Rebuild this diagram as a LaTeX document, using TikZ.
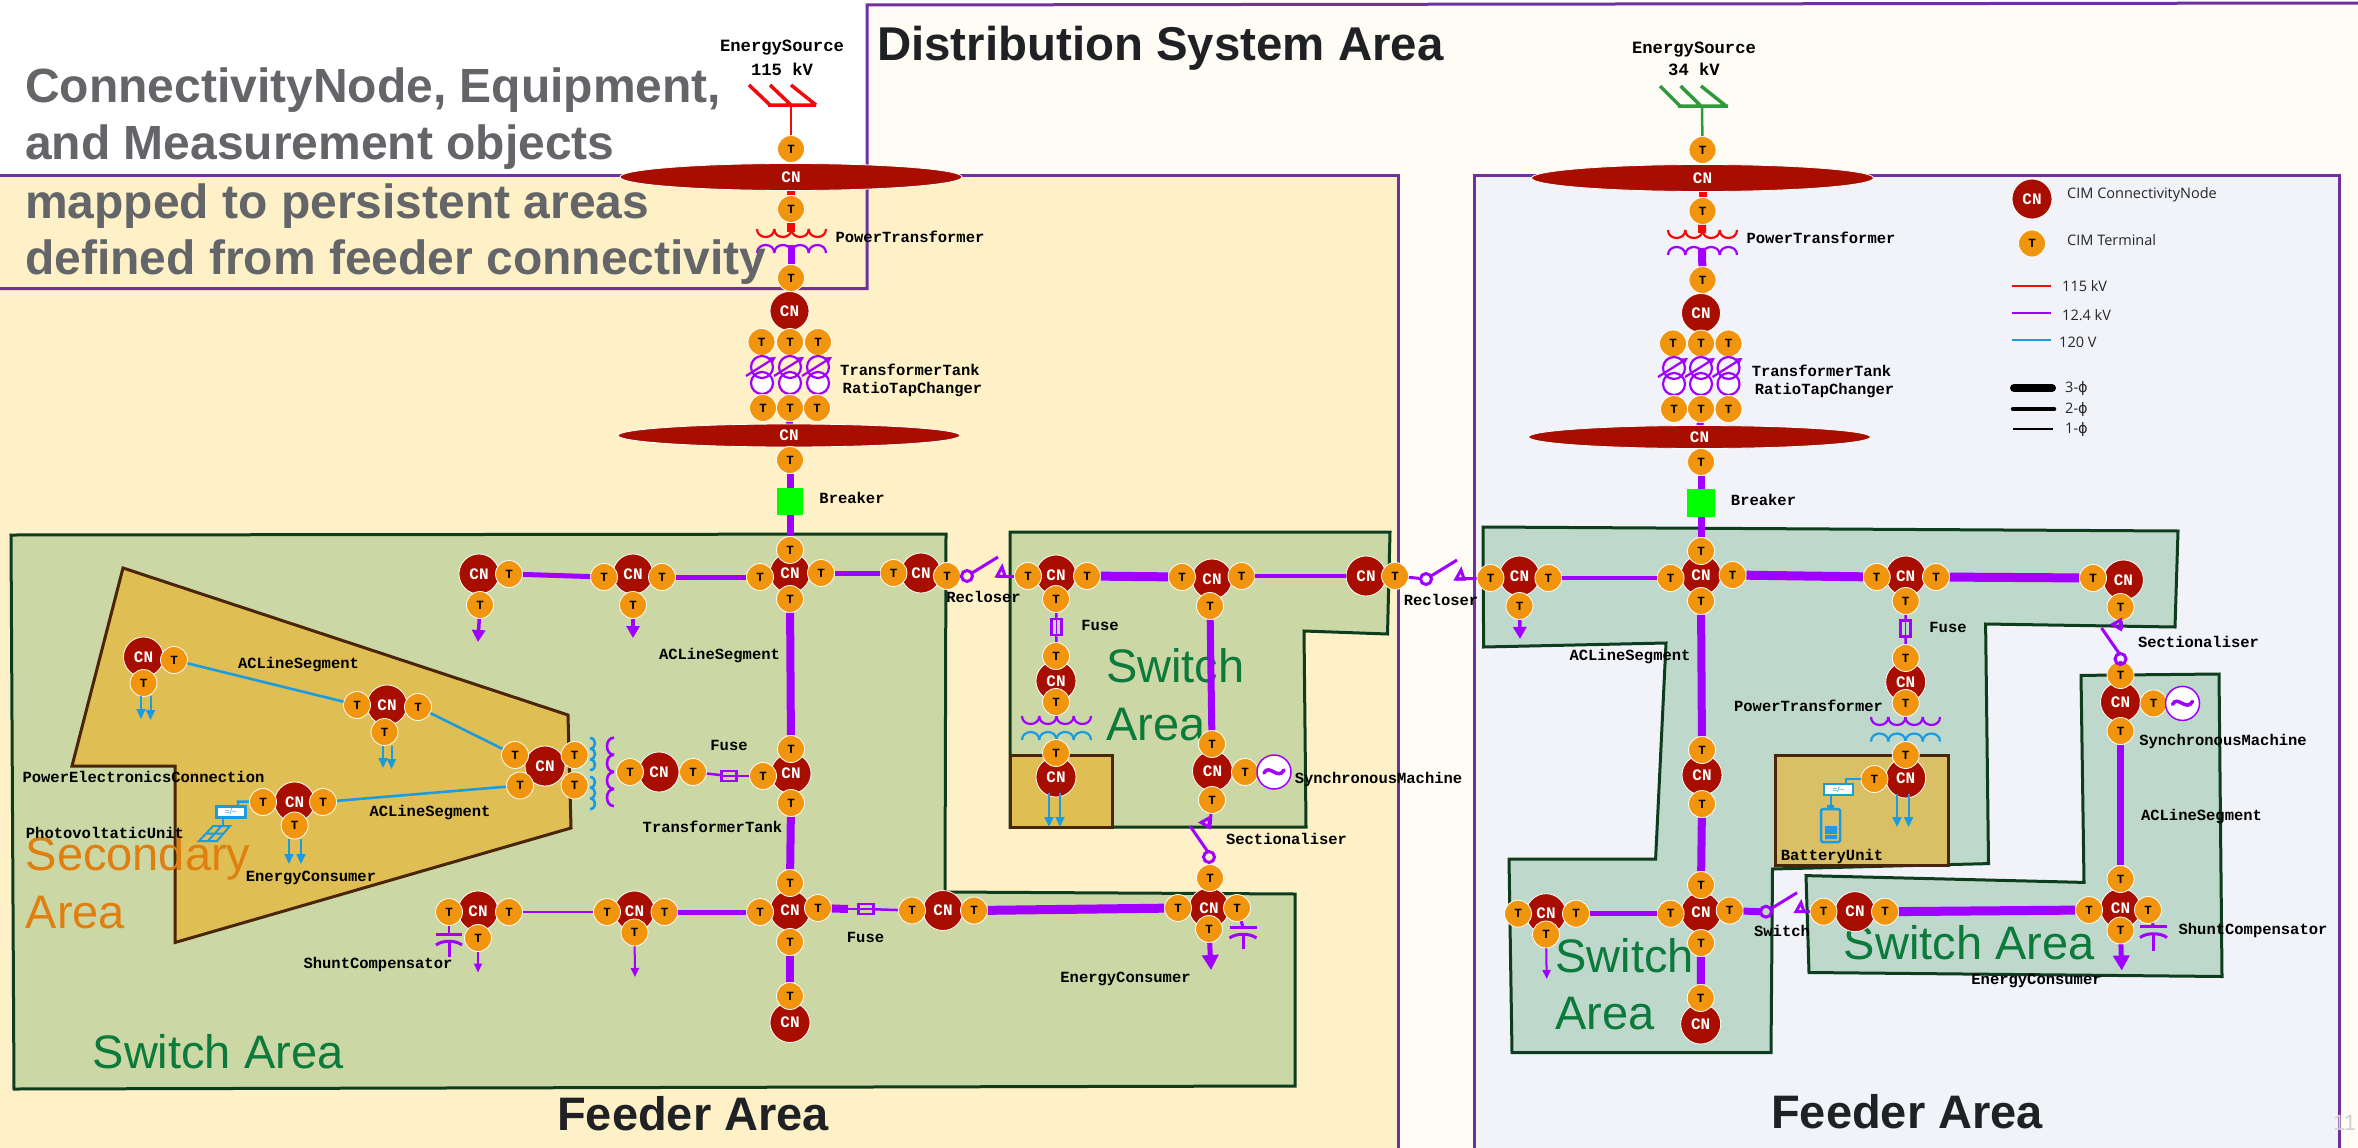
\documentclass[tikz,border=0pt]{standalone}
\usepackage{fontspec}
\setmainfont{Liberation Sans}
\newfontfamily\lmono{Liberation Mono}
\newfontfamily\lopen{Open Sans}
\newfontfamily\ldv{DejaVu Sans}
\usetikzlibrary{arrows.meta,shapes.geometric,calc}
\definecolor{purp}{HTML}{A000FF}
\definecolor{blu}{HTML}{1B9CE0}
\definecolor{redl}{HTML}{F00A0A}
\definecolor{grn}{HTML}{2E9A3C}
\definecolor{cnred}{HTML}{A80E00}
\definecolor{torange}{HTML}{F0950D}
\definecolor{distbg}{HTML}{FFFBF5}
\definecolor{feedA}{HTML}{FEF0C7}
\definecolor{feedB}{HTML}{F1F3F9}
\definecolor{swA}{HTML}{CCD7A6}
\definecolor{swB}{HTML}{BFD8CC}
\definecolor{goldA}{HTML}{DFBF53}
\definecolor{goldB}{HTML}{D9BF66}
\definecolor{edgeg}{HTML}{0E3D1E}
\definecolor{edgeb}{HTML}{4A2508}
\definecolor{areap}{HTML}{7030A0}
\definecolor{greent}{HTML}{0B7A3A}
\definecolor{oranget}{HTML}{DF7F0F}
\definecolor{greyt}{HTML}{636569}
\definecolor{darkt}{HTML}{202124}
\tikzset{
  cnode/.style={circle,fill=cnred,draw=white,line width=0.8pt,minimum size=40pt,inner sep=0pt,text=white,font=\lmono\bfseries\fontsize{16}{16}\selectfont},
  busbar/.style={ellipse,fill=cnred,draw=white,line width=0.8pt,inner sep=0pt,text=white,font=\lmono\bfseries\fontsize{16}{16}\selectfont},
  term/.style={circle,fill=torange,draw=white,line width=0.8pt,minimum size=27pt,inner sep=0pt,text=black,font=\lmono\bfseries\fontsize{12.5}{12.5}\selectfont},
  lab/.style={inner sep=0pt,text=black,text height=10pt,text depth=3pt,font=\lmono\bfseries\fontsize{15.5}{15.5}\selectfont},
  srclab/.style={inner sep=0pt,text=black,text height=11pt,text depth=3pt,font=\lmono\bfseries\fontsize{17.2}{17.2}\selectfont},
  big/.style={inner sep=0pt,anchor=base west,font=\fontsize{47}{47}\selectfont},
  bigb/.style={inner sep=0pt,anchor=base west,font=\bfseries\fontsize{47}{47}\selectfont},
  legt/.style={inner sep=0pt,anchor=west,text=black!85,font=\lopen\fontsize{14.5}{14.5}\selectfont},
  ph3/.style={draw=purp,line width=9pt},
  ph2/.style={draw=purp,line width=5pt},
  ph1/.style={draw=purp,line width=2.5pt},
  arr3/.style={draw=purp,line width=5pt,-{Triangle[length=15pt,width=16pt]}},
  arr2/.style={draw=purp,line width=3.5pt,-{Triangle[length=12pt,width=13pt]}},
  arr1/.style={draw=purp,line width=2pt,-{Triangle[length=9pt,width=8pt]}},
  arrb/.style={draw=blu,line width=2pt,-{Triangle[length=10pt,width=9pt]}},
  blue1/.style={draw=blu,line width=2.6pt},
  fuseh/.style={draw=purp,line width=2.5pt,fill=none,minimum width=15pt,minimum height=10pt,inner sep=0pt},
  fusev/.style={draw=purp,line width=2.5pt,fill=none,minimum width=10pt,minimum height=16pt,inner sep=0pt},
  swc/.style={circle,draw=purp,line width=3pt,fill=none,minimum size=11pt,inner sep=0pt},
  swl/.style={draw=purp,line width=3pt},
  sync/.style={circle,draw=purp,line width=1.5pt,fill=white,minimum size=34pt,inner sep=0pt},
  invb/.style={draw=blu,line width=2.5pt,fill=white,minimum width=29pt,minimum height=11pt,inner sep=0pt,text=blu,font=\fontsize{8}{8}\selectfont},
}
% row of bumps: x0, y, single bump width, height (+ down), count, colour
\newcommand{\bumprow}[6]{\foreach \i in {1,...,#5}{\draw[#6,line width=2.2pt] ({#1+(\i-1)*#3},#2) .. controls ({#1+(\i-1)*#3},{#2+1.33*#4}) and ({#1+\i*#3},{#2+1.33*#4}) .. ({#1+\i*#3},#2);}}
% column of bumps: x, y0, single bump height, depth (+ right), count, colour
\newcommand{\bumpcol}[6]{\foreach \i in {1,...,#5}{\draw[#6,line width=2.6pt] (#1,{#2+(\i-1)*#3}) .. controls ({#1+1.33*#4},{#2+(\i-1)*#3}) and ({#1+1.33*#4},{#2+\i*#3}) .. (#1,{#2+\i*#3});}}
\newcommand{\tapcoil}[2]{%
  \draw[purp,line width=2.2pt,fill=white] (#1,#2+16) circle[radius=11pt];
  \draw[purp,line width=2.2pt] (#1,#2) circle[radius=11pt];
  \draw[purp,line width=2.2pt,-{Triangle[length=6pt,width=6pt]}] (#1-16,#2+9) -- (#1+14,#2-10);}
% horizontal switch: name, x, y, left end node, right end node
\newcommand{\hswitch}[5]{%
  \node[swc] (#1) at (#2,#3) {};
  \coordinate (#1e) at (#2+30,#3);
  \draw[swl] (#4) -- (#1);
  \draw[swl] (#1e) -- (#5);
  \draw[swl] (#2+5,#3-3) -- (#2+31,#3-19);
  \draw[swl,line join=miter] (#2+30,#3) -- (#2+35,#3-9) -- (#2+38,#3) -- cycle;}
% vertical switch: name, x, y, upper node, lower node
\newcommand{\vswitch}[5]{%
  \node[swc] (#1) at (#2,#3) {};
  \coordinate (#1e) at (#2+1,#3-30);
  \draw[swl] (#4) -- (#1e);
  \draw[swl] (#1) -- (#5);
  \draw[swl] (#2-1,#3-5) -- (#2-19,#3-31);
  \draw[swl,line join=miter] (#2,#3-39) -- (#2-8,#3-34.5) -- (#2,#3-30) -- cycle;}
\newcommand{\tildemark}[2]{\draw[purp,line width=3.5pt,line cap=round] (#1-10,#2+1) .. controls (#1-5,#2-9) and (#1+4,#2+9) .. (#1+10,#2-2);}
\newcommand{\capac}[4]{% x, bar y, half width, stem end
  \draw[purp,line width=3pt] (#1-#3,#2) -- (#1+#3,#2);
  \draw[purp,line width=3pt] (#1-#3,#2+11) .. controls (#1-#3/2,#2+6) and (#1+#3/2,#2+6) .. (#1+#3,#2+11);
  \draw[purp,line width=3pt] (#1,#2+7) -- (#1,#4);}
\begin{document}
\begin{tikzpicture}[x=1pt,y=-1pt]
\useasboundingbox (0,0) rectangle (2358,1148);
\clip (0,0) rectangle (2358,1148);
\fill[white] (0,0) rectangle (2358,1148);
% distribution area background
\fill[distbg] (867,5) -- (2358,3) -- (2358,1148) -- (867,1148) -- cycle;
% feeder areas
\draw[areap,line width=3pt,fill=feedA] (-5,175.5) -- (1398,175.5) -- (1398,1155) -- (-5,1155) -- cycle;
\draw[areap,line width=3pt,fill=feedB] (1474.5,175.5) -- (2339,175.5) -- (2339,1155) -- (1474.5,1155) -- cycle;
\draw[areap,line width=3pt] (-5,288.5) -- (867,288.5) -- (867,5) -- (2365,3);
% switch areas
\draw[edgeg,line width=3pt,fill=swA] (11,535) -- (946,534) -- (945,892) -- (1295,894) -- (1295,1086) -- (14,1089) -- cycle;
\draw[edgeg,line width=3pt,fill=swA] (1010,532) -- (1390,532) -- (1387.5,634) -- (1304,631) -- (1306,827) -- (1010,827) -- cycle;
\draw[edgeg,line width=3pt,fill=swB] (1483,527) -- (2178,531) -- (2175,627) -- (1985.6,624) -- (1988.5,863.6) -- (1772.5,869) -- (1771,1052.6) -- (1512,1052.6) -- (1509,859) -- (1655.6,859) -- (1666,643) -- (1483.6,647) -- cycle;
\draw[edgeg,line width=3pt,fill=swB] (2081,675.4) -- (2219,674) -- (2222,976.5) -- (1809,972.5) -- (1806,875.6) -- (2084,882.4) -- cycle;
% secondary areas
\draw[edgeb,line width=3pt,fill=goldA] (123,568) -- (568,715) -- (571,828) -- (175,942.5) -- (175,766) -- (72,766) -- cycle;
\draw[edgeb,line width=3pt,fill=goldA] (1010,755) rectangle (1112,827);
\draw[edgeb,line width=3pt,fill=goldB] (1775.4,755) rectangle (1948,865);
% area names
\node[big,text=oranget] (tsec1) at (25.5,870) {Secondary};
\node[big,text=oranget] (tsec2) at (25.5,928) {Area};
\node[big,text=greent] (tsw1) at (92.5,1068) {Switch Area};
\node[big,text=greent] (tsw2) at (1106,682) {Switch};
\node[big,text=greent] (tsw3) at (1106,740) {Area};
\node[big,text=greent] (tsw4) at (1555.4,972) {Switch};
\node[big,text=greent] (tsw5) at (1555.4,1029.4) {Area};
\node[big,text=greent] (tsw6) at (1843.7,959) {Switch Area};
\node[bigb,text=darkt] (tfa1) at (557,1130.7) {Feeder Area};
\node[bigb,text=darkt] (tfa2) at (1771,1128) {Feeder Area};
\node[bigb,text=darkt,font=\bfseries\fontsize{47.4}{47.4}\selectfont] (tdist) at (877,60) {Distribution System Area};
\node[inner sep=0pt,anchor=base west,text=black!18,font=\fontsize{22}{22}\selectfont] (tpage) at (2333,1130) {11};

% ========== left substation ==========
\coordinate (srcA) at (791,105);
\coordinate (xA1) at (791,232);
\coordinate (xA2) at (791,245);
\node[busbar,minimum width=342pt,minimum height=27pt] (busA) at (791,177) {CN};
\node[term] (tA0) at (791,149) {T};
\node[term] (tA1) at (791,209) {T};
\node[term] (tA2) at (791,278) {T};
\draw[redl,line width=2.5pt] (srcA) -- (tA0);
\draw[redl,line width=3.5pt,line join=miter] (749,85) -- (770,105) (770,85) -- (791,105) (791,85) -- (816,105) (768,105) -- (816,105);
\draw[redl,line width=8pt] (busA) -- (tA1);
\draw[redl,line width=8pt] (tA1) -- (xA1);
\draw[purp,line width=7pt] (xA2) -- (tA2);
\bumprow{757}{229}{17.25}{8}{4}{redl}
\bumprow{757}{253}{17.25}{-8}{4}{purp}
\node[cnode,minimum size=39pt] (cA1) at (789.5,311) {CN};
\node[term] (tA3) at (761.5,342) {T};
\node[term] (tA4) at (790,342) {T};
\node[term] (tA5) at (818,342) {T};
\tapcoil{762}{367}\tapcoil{790}{367}\tapcoil{818}{367}
\node[busbar,minimum width=342pt,minimum height=23pt] (busB) at (789,435.5) {CN};
\node[term] (tA6) at (763,408) {T};
\node[term] (tA7) at (790,408) {T};
\node[term] (tA8) at (817,408) {T};
\draw[purp,line width=7pt] (tA7) -- (busB);
\node[term] (tA9) at (790,460) {T};
\node[fill={rgb,255:red,0;green,255;blue,0},minimum width=26.5pt,minimum height=27pt,inner sep=0pt] (brkA) at (790,501.5) {};

% ========== left feeder main row ==========
\node[cnode] (c1) at (479,574) {CN};
\node[term] (t1r) at (509,574) {T};
\node[term] (t1b) at (480,605) {T};
\node[cnode] (c2) at (633,574) {CN};
\node[term] (t2l) at (604,577) {T};
\node[term] (t2r) at (662,577) {T};
\node[term] (t2b) at (633,605) {T};
\node[cnode] (c3) at (790,573) {CN};
\node[term] (t3t) at (790,550) {T};
\node[term] (t3l) at (760,577) {T};
\node[term] (t3r) at (821,573) {T};
\node[term] (t3b) at (790,599) {T};
\node[cnode] (c4) at (921,573) {CN};
\node[term] (t4l) at (893.5,573) {T};
\node[term] (t4r) at (947,576) {T};
\draw[purp,line width=7pt] (tA9) -- (brkA);
\draw[purp,line width=7pt] (brkA) -- (t3t);
\draw[ph2] (t1r) -- (t2l);
\draw[ph2] (t2r) -- (t3l);
\draw[ph2] (t3r) -- (t4l);
\coordinate (ae1) at (478,642);
\coordinate (ae2) at (633,638);
\draw[arr2] (t1b) -- (ae1);
\draw[arr2] (t2b) -- (ae2);

% mid row: left feeder
\node[cnode] (c5) at (791,773.5) {CN};
\node[term] (t5t) at (791,749) {T};
\node[term] (t5l) at (763,776) {T};
\node[term] (t5b) at (791,803) {T};
\node[cnode] (c6) at (659,772) {CN};
\node[term] (t6l) at (630,772) {T};
\node[term] (t6r) at (693,772) {T};
\node[fuseh] (f1) at (729,776) {};
\draw[purp,line width=1.5pt] (f1.west) -- (f1.east);
\draw[ph1] (t6r) -- (f1);
\draw[ph1] (f1) -- (t5l);
\draw[purp,line width=8pt] (t3b) -- (t5t);

% lower row
\node[cnode] (c7) at (790,910.5) {CN};
\node[term] (t7t) at (790,883) {T};
\node[term] (t7l) at (760,912) {T};
\node[term] (t7r) at (818,908) {T};
\node[term] (t7b) at (790,942) {T};
\draw[purp,line width=8pt] (t5b) -- (t7t);
\node[cnode] (c8) at (634.5,911) {CN};
\node[term] (t8l) at (607,912) {T};
\node[term] (t8r) at (664.5,912) {T};
\node[term] (t8b) at (634.5,932.5) {T};
\node[cnode] (c9) at (478,911) {CN};
\node[term] (t9l) at (449,912) {T};
\node[term] (t9r) at (509,912) {T};
\node[term] (t9b) at (478,938) {T};
\draw[ph1] (t9r) -- (t8l);
\draw[ph2] (t8r) -- (t7l);
\coordinate (ae3) at (478,972.5);
\coordinate (ae4) at (635,977);
\draw[arr1] (t9b) -- (ae3);
\draw[arr1] (t8b) -- (ae4);
\capac{449}{934}{13}{957}
\draw[purp,line width=2.5pt] (t9l) -- (449,934);
\node[cnode] (c10) at (790,1022.5) {CN};
\node[term] (t10t) at (790,996) {T};
\draw[purp,line width=8pt] (t7b) -- (t10t);
\node[fuseh] (f2) at (866,909) {};
\draw[purp,line width=1.5pt] (f2.west) -- (f2.east);
\coordinate (f2a) at (848,909);
\draw[purp,line width=8pt] (t7r) -- (f2a);
\draw[ph1] (f2a) -- (f2);
\node[cnode] (c11) at (943,910.5) {CN};
\node[term] (t11l) at (912,910.5) {T};
\node[term] (t11r) at (974,910.5) {T};
\draw[ph1] (f2) -- (t11l);
\node[cnode] (c12) at (1209,908) {CN};
\node[term] (t12t) at (1210,878) {T};
\node[term] (t12l) at (1178,908) {T};
\node[term] (t12r) at (1237,908) {T};
\node[term] (t12b) at (1209,929) {T};
\draw[ph3] (t11r) -- (t12l);
\coordinate (ae5) at (1211,970);
\draw[arr3] (t12b) -- (ae5);
\capac{1243}{927}{13.5}{949}
\draw[purp,line width=3pt] (t12r) -- (1243,927);

% secondary (left)
\node[cnode] (s1) at (143.5,657) {CN};
\node[term] (s1r) at (174,660) {T};
\node[term] (s1b) at (143.5,683) {T};
\coordinate (sa1) at (141,719);\coordinate (sa1s) at (141,696);
\coordinate (sa2) at (150.5,720);\coordinate (sa2s) at (150.5,696);
\draw[arrb] (sa1s) -- (sa1);
\draw[arrb] (sa2s) -- (sa2);
\node[cnode] (s2) at (387,705) {CN};
\node[term] (s2l) at (357,705) {T};
\node[term] (s2r) at (418,707) {T};
\node[term] (s2b) at (384.5,732) {T};
\coordinate (sa3s) at (383,746);\coordinate (sa3) at (383,768);
\coordinate (sa4s) at (391.5,746);\coordinate (sa4) at (391.5,769);
\draw[arrb] (sa3s) -- (sa3);
\draw[arrb] (sa4s) -- (sa4);
\draw[blue1] (s1r) -- (s2l);
\node[cnode] (s3) at (545,766) {CN};
\node[term] (s3a) at (515,755) {T};
\node[term] (s3b) at (574.6,755) {T};
\node[term] (s3c) at (520,785.5) {T};
\node[term] (s3d) at (574.6,785.5) {T};
\draw[blue1] (s2r) -- (s3a);
\node[cnode] (s4) at (294.6,802) {CN};
\node[term] (s4l) at (263,802) {T};
\node[term] (s4r) at (323,802) {T};
\node[term] (s4b) at (294.6,825.5) {T};
\coordinate (sa5s) at (289,839);\coordinate (sa5) at (289,864);
\coordinate (sa6s) at (301,839);\coordinate (sa6) at (301,864);
\draw[arrb] (sa5s) -- (sa5);
\draw[arrb] (sa6s) -- (sa6);
\draw[blue1] (s4r) -- (s3c);
\bumpcol{590}{738}{10.7}{5}{3}{blu}
\bumpcol{590}{777}{10.7}{5}{3}{blu}
\bumpcol{614}{737.7}{17.1}{-7}{4}{purp}
\node[invb] (inv1) at (231,812) {=/\textasciitilde};
\draw[draw=blu,line width=2.5pt] (s4l) -- (238,801.5) -- (238,806);
\coordinate (pv1) at (223,826);
\draw[draw=blu,line width=2.5pt] (inv1.south -| pv1) -- (pv1);
\draw[draw=blu,line width=2pt,line join=miter] (213,826) -- (230,826) -- (217,841) -- (199,841) -- cycle (206,833.5) -- (223.5,833.5) (221.5,826) -- (208,841);

% ========== middle switch area ==========
\node[cnode,minimum size=40pt] (m1) at (1056,575) {CN};
\node[term] (m1l) at (1028,576) {T};
\node[term] (m1r) at (1087,576) {T};
\node[term] (m1b) at (1056,599) {T};
\hswitch{rec1}{967}{576}{t4r}{m1l}
\node[cnode] (m2) at (1212,579) {CN};
\node[term] (m2l) at (1182,577) {T};
\node[term] (m2r) at (1241.5,576) {T};
\node[term] (m2b) at (1210,606) {T};
\draw[ph3] (m1r) -- (m2l);
\node[cnode] (m3) at (1366,576) {CN};
\node[term] (m3r) at (1395,576) {T};
\draw[draw=purp,line width=4pt] (m2r) -- (m3);
\node[fusev] (f3) at (1056.5,627) {};
\draw[purp,line width=1.5pt] (f3.north) -- (f3.south);
\node[cnode] (m4) at (1056,681) {CN};
\node[term] (m4t) at (1056,656) {T};
\node[term] (m4b) at (1056,702) {T};
\draw[ph1] (m1b) -- (f3);
\draw[ph1] (f3) -- (m4t);
\bumprow{1022}{716}{17.25}{8}{4}{purp}
\bumprow{1022}{740}{17.25}{-8}{4}{blu}
\node[cnode] (m5) at (1056,777) {CN};
\node[term] (m5t) at (1056,753) {T};
\coordinate (ma1s) at (1049,793);\coordinate (ma1) at (1049,827);
\coordinate (ma2s) at (1060,793);\coordinate (ma2) at (1060,827);
\draw[arrb] (ma1s) -- (ma1);
\draw[arrb] (ma2s) -- (ma2);
\node[cnode] (m6) at (1212.5,771) {CN};
\node[term] (m6t) at (1212,744) {T};
\node[term] (m6r) at (1245,772) {T};
\node[term] (m6b) at (1212,800) {T};
\draw[purp,line width=7pt] (m2b) -- (m6t);
\node[sync] (sy1) at (1274,772) {};
\tildemark{1274}{772}
\vswitch{sec1}{1209}{857}{m6b}{t12t}

% ========== right substation ==========
\coordinate (srcB) at (1702,106);
\coordinate (xB1) at (1702,233);
\coordinate (xB2) at (1702,248);
\node[busbar,minimum width=342pt,minimum height=27pt] (busC) at (1702.5,178) {CN};
\node[term] (tB0) at (1702.5,150) {T};
\node[term] (tB1) at (1702.5,211) {T};
\node[term] (tB2) at (1702.5,280) {T};
\draw[grn,line width=2.5pt] (srcB) -- (tB0);
\draw[grn,line width=3.5pt] (1660,86) -- (1680,106) (1680.5,86) -- (1701,106) (1701,86) -- (1726,106) (1678,106) -- (1728,106);
\draw[redl,line width=8pt] (busC) -- (tB1);
\draw[redl,line width=8pt] (tB1) -- (xB1);
\draw[purp,line width=8pt] (xB2) -- (tB2);
\bumprow{1668}{230}{17.25}{8}{4}{redl}
\bumprow{1668}{255}{17.25}{-8}{4}{purp}
\node[cnode,minimum size=39pt] (cB1) at (1701,313) {CN};
\node[term] (tB3) at (1673,343.5) {T};
\node[term] (tB4) at (1701,343.5) {T};
\node[term] (tB5) at (1728.5,343.5) {T};
\tapcoil{1674}{368}\tapcoil{1701}{368}\tapcoil{1728.5}{368}
\node[busbar,minimum width=342pt,minimum height=23pt] (busD) at (1699.5,437) {CN};
\node[term] (tB6) at (1674,409) {T};
\node[term] (tB7) at (1701,409) {T};
\node[term] (tB8) at (1728.5,409) {T};
\draw[purp,line width=7pt] (tB7) -- (busD);
\node[term] (tB9) at (1701,462) {T};
\node[fill={rgb,255:red,0;green,255;blue,0},minimum width=28pt,minimum height=28pt,inner sep=0pt] (brkB) at (1701,503) {};

% ========== right feeder ==========
\node[cnode] (r1) at (1519.5,576) {CN};
\node[term] (r1l) at (1490.5,578) {T};
\node[term] (r1r) at (1548.4,578) {T};
\node[term] (r1b) at (1519.5,606) {T};
\hswitch{rec2}{1426}{579}{m3r}{r1l}
\coordinate (rae1) at (1520,639);
\draw[arr2] (r1b) -- (rae1);
\node[cnode] (r2) at (1701,575) {CN};
\node[term] (r2t) at (1701,551) {T};
\node[term] (r2l) at (1670.6,578) {T};
\node[term] (r2r) at (1732.6,575) {T};
\node[term] (r2b) at (1701,601) {T};
\draw[purp,line width=7pt] (tB9) -- (brkB);
\draw[purp,line width=7pt] (brkB) -- (r2t);
\draw[draw=purp,line width=4.5pt] (r1r) -- (r2l);
\node[cnode] (r3) at (1905.7,576) {CN};
\node[term] (r3l) at (1876.7,577) {T};
\node[term] (r3r) at (1936,577) {T};
\node[term] (r3b) at (1905.7,601) {T};
\draw[ph3] (r2r) -- (r3l);
\node[cnode] (r4) at (2123.4,580) {CN};
\node[term] (r4l) at (2093,578) {T};
\node[term] (r4b) at (2120.5,607) {T};
\draw[ph3] (r3r) -- (r4l);
\node[fusev] (f4) at (1905.5,628.5) {};
\draw[purp,line width=1.5pt] (f4.north) -- (f4.south);
\node[cnode] (r5) at (1905.7,682) {CN};
\node[term] (r5t) at (1905.7,658) {T};
\node[term] (r5b) at (1905.7,703) {T};
\draw[ph1] (r3b) -- (f4);
\draw[ph1] (f4) -- (r5t);
\bumprow{1871}{717}{17.25}{8}{4}{purp}
\bumprow{1871}{741.5}{17.25}{-8}{4}{blu}
\node[cnode] (r6) at (1905.7,778) {CN};
\node[term] (r6t) at (1905.7,755) {T};
\node[term] (r6l) at (1874.4,779) {T};
\coordinate (rb1s) at (1897,794);\coordinate (rb1) at (1897,827);
\coordinate (rb2s) at (1908.6,794);\coordinate (rb2) at (1908.6,827);
\draw[arrb] (rb1s) -- (rb1);
\draw[arrb] (rb2s) -- (rb2);
\node[invb] (inv2) at (1838.5,789.3) {=/\textasciitilde};
\draw[draw=blu,line width=2.5pt] (r6l) -- (1846,779) -- (1846,783);
\coordinate (bt0) at (1831,805);
\draw[draw=blu,line width=2.5pt] (inv2.south -| bt0) -- (bt0);
\fill[blu] (1827,805) rectangle (1834,809);
\draw[draw=blu,line width=2.5pt,rounded corners=1.5pt] (1821,809) rectangle (1840,842);
\fill[blu] (1825,826) rectangle (1837,834) (1825,835) rectangle (1837,839);
% mid + lower of right feeder
\node[cnode] (r7) at (1702,775) {CN};
\node[term] (r7t) at (1702,750) {T};
\node[term] (r7b) at (1702,804) {T};
\draw[purp,line width=8pt] (r2b) -- (r7t);
\node[cnode] (r8) at (1701,912.5) {CN};
\node[term] (r8t) at (1701,885) {T};
\node[term] (r8l) at (1670.6,913.7) {T};
\node[term] (r8r) at (1729.7,910.5) {T};
\node[term] (r8b) at (1701,943) {T};
\draw[purp,line width=8pt] (r7b) -- (r8t);
\node[cnode] (r9) at (1546,913.7) {CN};
\node[term] (r9l) at (1518,913.7) {T};
\node[term] (r9r) at (1576,913.7) {T};
\node[term] (r9b) at (1546,934.5) {T};
\draw[draw=purp,line width=4.5pt] (r9r) -- (r8l);
\coordinate (rae2) at (1546.7,979);
\draw[arr1] (r9b) -- (rae2);
\node[cnode] (r10) at (1700.7,1024) {CN};
\node[term] (r10t) at (1700.7,998) {T};
\draw[purp,line width=8pt] (r8b) -- (r10t);
\node[cnode] (r11) at (1855,911.7) {CN};
\node[term] (r11l) at (1823.5,911.7) {T};
\node[term] (r11r) at (1885,911.7) {T};
\hswitch{sw1}{1766}{911.7}{r8r}{r11l}
\coordinate (swth) at (1760,911.7);
\draw[purp,line width=7pt] (r8r) -- (swth);
\node[cnode] (r12) at (2120.5,908.5) {CN};
\node[term] (r12t) at (2120.5,879) {T};
\node[term] (r12l) at (2089,910) {T};
\node[term] (r12r) at (2148,910) {T};
\node[term] (r12b) at (2120.5,930.5) {T};
\draw[ph3] (r11r) -- (r12l);
\coordinate (rae3) at (2121.7,970.5);
\draw[arr3] (r12b) -- (rae3);
\capac{2153.5}{926.5}{13.5}{950.5}
\draw[purp,line width=3pt] (r12r) -- (2153.5,926.5);
\node[cnode] (r13) at (2120.5,702) {CN};
\node[term] (r13t) at (2120.5,675) {T};
\node[term] (r13r) at (2153.5,703.4) {T};
\node[term] (r13b) at (2120.5,731) {T};
\node[sync] (sy2) at (2182.5,703.4) {};
\tildemark{2182.5}{703.4}
\draw[purp,line width=7pt] (r13b) -- (r12t);
\vswitch{sec2}{2120.5}{659}{r4b}{r13t}

% ========== labels ==========
\node[srclab] (l1) at (782,48) {EnergySource};
\node[srclab] (l2) at (782,71) {115 kV};
\node[srclab] (l3) at (1694,49) {EnergySource};
\node[srclab] (l4) at (1694,72) {34 kV};
\node[lab] (l5) at (910,239) {PowerTransformer};
\node[lab] (l6) at (910,372) {TransformerTank};
\node[lab] (l7) at (912.5,390) {RatioTapChanger};
\node[lab] (l8) at (852,500) {Breaker};
\node[lab] (l9) at (1821,240) {PowerTransformer};
\node[lab] (l10) at (1821.5,372.5) {TransformerTank};
\node[lab] (l11) at (1824.5,391) {RatioTapChanger};
\node[lab] (l12) at (1763.5,502) {Breaker};
\node[lab] (l13) at (983.5,599) {Recloser};
\node[lab] (l14) at (1441,602) {Recloser};
\node[lab] (l15) at (1100,627) {Fuse};
\node[lab] (l16) at (1286.5,841) {Sectionaliser};
\node[lab] (l17) at (1378.5,780) {SynchronousMachine};
\node[lab] (l18) at (1125.5,979) {EnergyConsumer};
\node[lab] (l19) at (865.5,939) {Fuse};
\node[lab] (l20) at (378,965) {ShuntCompensator};
\node[lab] (l21) at (719.5,656) {ACLineSegment};
\node[lab] (l22) at (729,747) {Fuse};
\node[lab] (l23) at (712.5,829) {TransformerTank};
\node[lab] (l24) at (298.5,665) {ACLineSegment};
\node[lab] (l25) at (430,813) {ACLineSegment};
\node[lab] (l26) at (143.5,779) {PowerElectronicsConnection};
\node[lab] (l27) at (105,835) {PhotovoltaticUnit};
\node[lab] (l28) at (311,878) {EnergyConsumer};
\node[lab] (l29) at (1630,657) {ACLineSegment};
\node[lab] (l30) at (1948,629) {Fuse};
\node[lab] (l31) at (1808.5,708) {PowerTransformer};
\node[lab] (l32) at (2198.5,644) {Sectionaliser};
\node[lab] (l33) at (2223,741.5) {SynchronousMachine};
\node[lab] (l34) at (2201.5,817) {ACLineSegment};
\node[lab] (l35) at (2253,931) {ShuntCompensator};
\node[lab] (l36) at (2036.5,981) {EnergyConsumer};
\node[lab] (l37) at (1832,857) {BatteryUnit};
\node[lab] (l38) at (1782,933) {Switch};

% ========== legend ==========
\node[cnode] (lgc) at (2032,199) {CN};
\node[term] (lgt) at (2032,243.5) {T};
\node[legt] (lg1) at (2067,195) {CIM ConnectivityNode};
\node[legt] (lg2) at (2067,240) {CIM Terminal};
\coordinate (a1) at (2012,285.7);\coordinate (a2) at (2050.5,285.7);
\coordinate (b1) at (2012,313);\coordinate (b2) at (2050.5,313);
\coordinate (c1e) at (2012,340);\coordinate (c2e) at (2050.5,340);
\draw[redl,line width=2pt] (a1) -- (a2);
\draw[purp,line width=2pt] (b1) -- (b2);
\draw[blu,line width=2pt] (c1e) -- (c2e);
\node[legt] (lg3) at (2062,286) {115 kV};
\node[legt] (lg4) at (2062,315) {12.4 kV};
\node[legt] (lg5) at (2059,342) {120 V};
\coordinate (d1) at (2014,388);\coordinate (d2) at (2052,388);
\coordinate (e1) at (2013,409);\coordinate (e2) at (2054,409);
\coordinate (f1e) at (2013,429);\coordinate (f2e) at (2053,429);
\draw[black,line width=8pt,line cap=round] (d1) -- (d2);
\draw[black,line width=4.5pt,line cap=round] (e1) -- (e2);
\draw[black,line width=2pt] (f1e) -- (f2e);
\node[legt] (lg6) at (2065,388) {3-{\ldv ϕ}};
\node[legt] (lg7) at (2065,409) {2-{\ldv ϕ}};
\node[legt] (lg8) at (2065,429) {1-{\ldv ϕ}};

% ========== headline ==========
\tikzset{headl/.style={inner sep=0pt,anchor=base west,text=greyt,font=\bfseries\fontsize{48}{48}\selectfont}}
\node[headl] (h1) at (25,102) {ConnectivityNode, Equipment,};
\node[headl] (h2) at (25,159) {and Measurement objects};
\node[headl] (h3) at (25,218) {mapped to persistent areas};
\node[headl] (h4) at (25,274) {defined from feeder connectivity};
\end{tikzpicture}
\end{document}
